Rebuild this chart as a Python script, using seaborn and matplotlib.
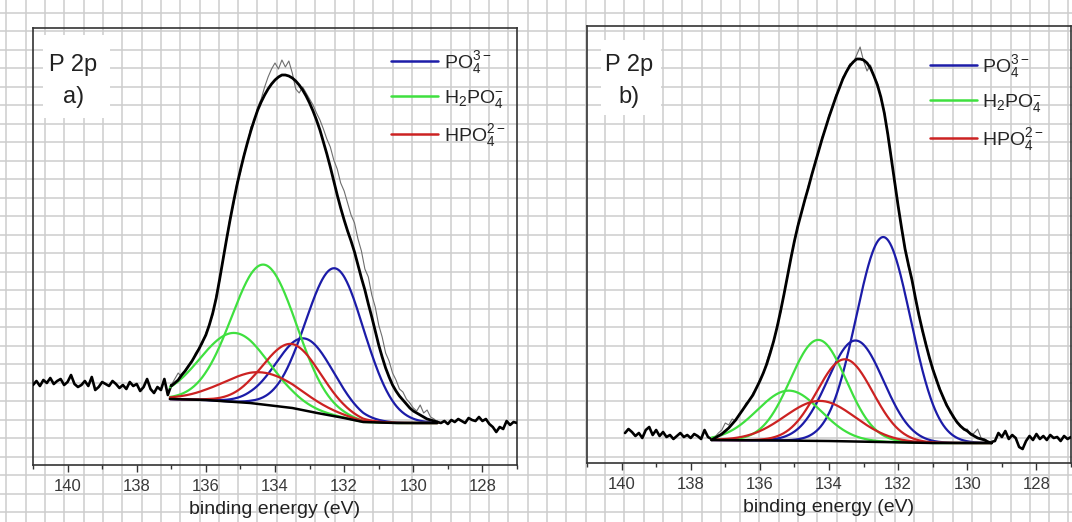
import numpy as np
import pandas as pd
import matplotlib
matplotlib.use("Agg")
import matplotlib.pyplot as plt
import seaborn as sns
from matplotlib.lines import Line2D
from matplotlib.patches import Rectangle
from matplotlib import font_manager

# ---------------- data ----------------
x_ticks = [140, 138, 136, 134, 132, 130, 128]
x_tick_labels = ["140", "138", "136", "134", "132", "130", "128"]
x_label = "binding energy (eV)"
panel_titles = ["P 2p", "P 2p"]
panel_tags = ["a)", "b)"]
species = [r"$\mathregular{PO_4^{3-}}$", r"$\mathregular{H_2PO_4^{-}}$", r"$\mathregular{HPO_4^{2-}}$"]

# measured spectra, sampled every 0.1 eV from 141.0 down to 127.0 (arbitrary intensity)
energy = np.round(np.arange(141.0, 126.95, -0.1), 1)

raw_a = [80, 84, 79, 85, 82, 87, 81, 84, 86, 80, 83, 90, 81, 78, 80, 84, 79, 88, 75, 78,
         83, 81, 79, 84, 81, 77, 80, 76, 83, 79, 81, 74, 78, 86, 76, 72, 78, 75, 86, 70,
         80, 86, 92, 88, 95, 100, 103, 112, 117, 121,
         132, 141, 150, 170, 184, 208, 225, 248, 260, 283,
         292, 311, 320, 338, 343, 358, 366, 378, 388, 396,
         402, 396, 405, 398, 404, 392, 376, 372, 378, 372,
         366, 360, 352, 345, 336, 326, 318, 305, 296, 282,
         274, 262, 250, 242, 226, 214, 196, 188, 170, 158,
         140, 128, 112, 104, 92, 85, 76, 73, 66, 62,
         57, 54, 60, 52, 55, 48, 46,
         43, 42, 44, 41, 45, 43, 46, 44, 42, 47, 45, 44, 48, 44, 46, 41, 38, 33, 38, 36,
         44, 40, 43, 42]

raw_b = [np.nan] * 11 + [
         30, 34, 31, 27, 30, 25, 33, 36, 28, 33, 27, 31, 26, 28, 24, 27, 30, 26, 28, 25,
         29, 27, 24, 33, 26,
         24, 26, 30, 33, 40, 38, 44, 42, 49, 52,
         60, 62, 70, 74, 84, 89, 102, 113, 121, 138,
         150, 171, 186, 207, 220, 239, 249, 262, 277, 287,
         302, 311, 326, 334, 348, 355, 368, 374, 386, 390,
         399, 400, 408, 416, 402, 392, 398, 386, 380, 364,
         352, 327, 307, 279, 259, 233, 215, 196, 185, 163,
         150, 131, 121, 104, 96, 82, 76, 64, 60, 50,
         48, 40, 38, 33, 34, 28, 30, 34, 25, 24, 22, 21,
         22, 30, 26, 32, 24, 28, 25, 16, 14, 22, 27, 23, 29, 24, 27, 23, 28, 25, 26, 22,
         27, 24, 26]

# fitted envelopes (0.1 eV steps over the fit window)
env_a_start, env_b_start = 137.0, 137.4
envelope_a = [79, 82, 85, 90, 94, 99, 104, 110, 116, 123,
              130, 140, 152, 167, 186, 206, 226, 245, 263, 280,
              295, 309, 322, 334, 345, 355, 363, 370, 376, 381,
              385, 388, 390, 390, 389, 387, 384, 380, 375, 369,
              362, 354, 345, 335, 323, 311, 298, 284, 270, 257,
              245, 234, 224, 213, 200, 187, 175, 161, 148, 134,
              120, 108, 97, 88, 80, 74, 69, 65, 61, 57,
              54, 52, 50, 48, 46, 45, 44, 43]
envelope_b = [23, 25, 27, 29, 32, 35, 39, 43, 48, 53,
              58, 63, 68, 75, 82, 90, 99, 110, 122, 136,
              152, 169, 187, 205, 222, 237, 250, 263, 275, 288,
              300, 312, 324, 335, 346, 356, 366, 375, 384, 391,
              397, 401, 404, 404, 403, 400, 395, 387, 378, 366,
              350, 329, 305, 281, 257, 235, 214, 198, 183, 165,
              148, 133, 119, 106, 94, 84, 74, 66, 58, 52,
              46, 41, 37, 34, 32, 29, 27, 25, 24, 23, 21, 20]

# Shirley-type backgrounds
bg_a_energy = [137.04, 136.0, 134.72, 133.5, 132.78, 132.0, 131.45, 130.5, 129.3]
bg_a_level = [66, 65, 62, 57, 52, 47, 43, 42, 42]
bg_b_energy = [137.39, 135.5, 134.0, 132.5, 131.0, 129.29]
bg_b_level = [23, 22.5, 22, 21, 20, 20]

# fitted components: two peaks per species (centre eV, height above background, FWHM eV)
a_centers = {"PO4": [132.26, 133.13], "H2PO4": [134.32, 135.16], "HPO4": [133.51, 134.35]}
a_heights = {"PO4": [148, 72], "H2PO4": [140, 69], "HPO4": [64, 32]}
a_fwhm = {"PO4": [2.0, 1.95], "H2PO4": [2.2, 2.35], "HPO4": [2.0, 2.6]}
b_centers = {"PO4": [132.43, 133.23], "H2PO4": [134.31, 135.16], "HPO4": [133.54, 134.26]}
b_heights = {"PO4": [205, 101], "H2PO4": [101, 50], "HPO4": [82, 40]}
b_fwhm = {"PO4": [1.85, 1.9], "H2PO4": [1.9, 2.15], "HPO4": [1.9, 2.4]}

# ---------------- style ----------------
sns.set_theme(style="white")
names = {f.name for f in font_manager.fontManager.ttflist}
fam = ["Liberation Sans Narrow", "Liberation Sans", "DejaVu Sans"]
fam = [f for f in fam if f in names]
plt.rcParams["font.family"] = fam
plt.rcParams["mathtext.fontset"] = "custom"
plt.rcParams["mathtext.rm"] = fam[0]
plt.rcParams["mathtext.it"] = fam[0] + ":italic"
plt.rcParams["mathtext.bf"] = fam[0] + ":bold"

colors = {"PO4": "#1c1ca8", "H2PO4": "#3fe03f", "HPO4": "#cc2222"}
keys = ["PO4", "H2PO4", "HPO4"]
W, H = 1072, 522

fig = plt.figure(figsize=(W / 100, H / 100), dpi=100)
bg = fig.add_axes([0, 0, 1, 1], zorder=0)
bg.set_xlim(0, W)
bg.set_ylim(H, 0)
bg.axis("off")
for gx in np.arange(6.4, W, 19.31):
    bg.axvline(gx, color="#cdcdcd", lw=1.1, zorder=0)
for gy in np.arange(12.8, H, 18.5):
    bg.axhline(gy, color="#cdcdcd", lw=1.1, zorder=0)

panels = [
    dict(left=33, bottom=465, raw=raw_a, env=envelope_a, env_start=env_a_start,
         bge=bg_a_energy, bgl=bg_a_level, c=a_centers, h=a_heights, w=a_fwhm,
         box=(43, 35, 67, 83), tx=73.5, leg=(391, 49)),
    dict(left=587, bottom=463, raw=raw_b, env=envelope_b, env_start=env_b_start,
         bge=bg_b_energy, bgl=bg_b_level, c=b_centers, h=b_heights, w=b_fwhm,
         box=(601, 40, 60, 75), tx=629.5, leg=(930, 53)),
]

for i, p in enumerate(panels):
    ax = fig.add_axes([p["left"] / W, 1 - p["bottom"] / H, 484 / W, 437 / H], zorder=1)
    ax.set_facecolor("none")
    fit_lo, fit_hi = min(p["bge"]), max(p["bge"])

    # raw spectrum: thin grey inside fit window, thick black outside
    raw = pd.DataFrame({"E": energy, "I": p["raw"]}).dropna()
    inside = raw[(raw.E <= fit_hi + 0.05) & (raw.E >= fit_lo - 0.05)]
    left_part = raw[raw.E >= fit_hi - 0.05]
    right_part = raw[raw.E <= fit_lo + 0.05]
    sns.lineplot(data=inside, x="E", y="I", ax=ax, color="#6e6e6e", lw=0.8,
                 estimator=None, sort=False, zorder=2)
    for part in (left_part, right_part):
        sns.lineplot(data=part, x="E", y="I", ax=ax, color="black", lw=1.9,
                     estimator=None, sort=False, zorder=3)

    # background and components
    Eg = np.linspace(fit_hi, fit_lo, 400)
    base = np.interp(Eg, p["bge"][::-1], p["bgl"][::-1])
    rows = []
    for k in keys:
        for j in range(2):
            sig = p["w"][k][j] / 2.3548
            yv = base + p["h"][k][j] * np.exp(-0.5 * ((Eg - p["c"][k][j]) / sig) ** 2)
            rows.append(pd.DataFrame({"E": Eg, "I": yv, "species": k, "peak": f"{k}{j}"}))
    comp = pd.concat(rows, ignore_index=True)
    sns.lineplot(data=comp, x="E", y="I", hue="species", units="peak", palette=colors,
                 ax=ax, lw=1.6, estimator=None, sort=False, legend=False, zorder=4)
    sns.lineplot(x=p["bge"], y=p["bgl"], ax=ax, color="black", lw=1.8, zorder=5)

    # envelope
    envE = np.round(p["env_start"] - 0.1 * np.arange(len(p["env"])), 1)
    sns.lineplot(x=envE, y=p["env"], ax=ax, color="black", lw=2.0, estimator=None,
                 sort=False, zorder=6)

    ax.set_xlim(141, 127)
    ax.set_ylim(0, 437)
    ax.set_xticks(x_ticks)
    ax.set_xticklabels(x_tick_labels)
    ax.set_xticks(np.arange(127, 142, 1), minor=True)
    ax.set_yticks([])
    ax.tick_params(axis="x", which="major", direction="out", length=5, width=1,
                   color="#333333", labelsize=12, labelcolor="#3a3a3a", pad=5, bottom=True)
    ax.tick_params(axis="x", which="minor", direction="out", length=3, width=1,
                   color="#333333", bottom=True)
    ax.set_xlabel(x_label, fontsize=14, color="#222222", labelpad=5)
    ax.set_ylabel("")
    for s in ax.spines.values():
        s.set_visible(True)
        s.set_color("#333333")
        s.set_linewidth(1.2)

    # legend
    handles = [Line2D([], [], color=colors[k], lw=1.8) for k in keys]
    ax.legend(handles, species, loc="upper left", bbox_to_anchor=p["leg"],
              bbox_transform=bg.transData, frameon=False, fontsize=14,
              handlelength=2.4, handletextpad=0.3, labelspacing=0.62,
              borderpad=0, borderaxespad=0)

    # panel label
    bx, by, bw, bh = p["box"]
    bg.add_patch(Rectangle((bx, by), bw, bh, facecolor="white", edgecolor="none", zorder=1))
    bg.text(p["tx"], 65, panel_titles[i], ha="center", va="center", fontsize=17,
            color="#222222", zorder=2)
    bg.text(p["tx"], 97, panel_tags[i], ha="center", va="center", fontsize=17,
            color="#222222", zorder=2)

fig.savefig("out.png", dpi=100)
